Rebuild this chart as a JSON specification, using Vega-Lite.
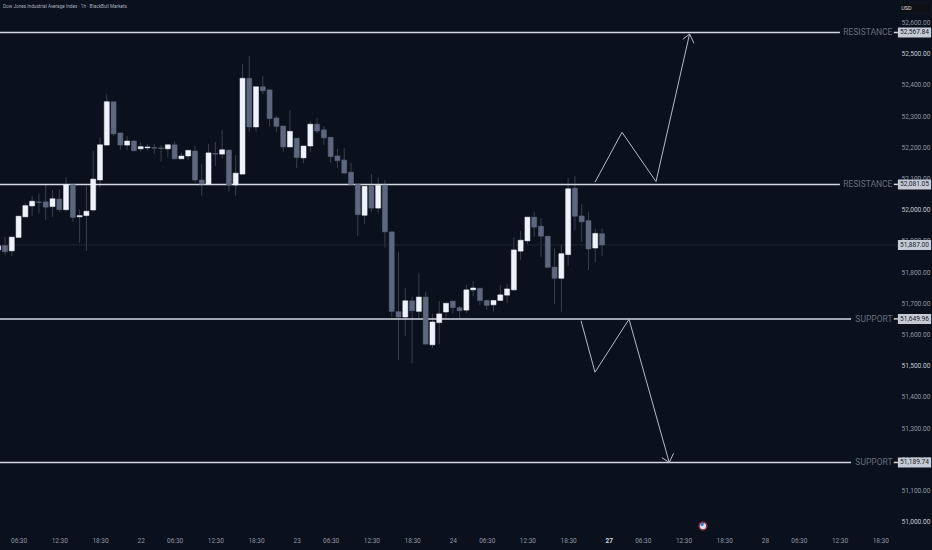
{
  "$schema": "https://vega.github.io/schema/vega-lite/v6.json",
  "width": 897,
  "height": 532,
  "autosize": "none",
  "padding": {"left": 0, "top": 0, "right": 35, "bottom": 18},
  "background": "#0a111d",
  "config": {
    "view": {"stroke": null},
    "text": {"font": "Roboto"}
  },
  "datasets": {
    "candles": [
      {"bar": -1, "open": 51871, "high": 51890, "low": 51864, "close": 51884},
      {"bar": 0, "open": 51885, "high": 51913, "low": 51855, "close": 51865},
      {"bar": 1, "open": 51868, "high": 51912, "low": 51851, "close": 51912},
      {"bar": 2, "open": 51911, "high": 51979, "low": 51911, "close": 51979},
      {"bar": 3, "open": 51977, "high": 52021, "low": 51977, "close": 52013},
      {"bar": 4, "open": 52012, "high": 52044, "low": 51980, "close": 52027},
      {"bar": 5, "open": 52025, "high": 52052, "low": 51988, "close": 52023},
      {"bar": 6, "open": 52025, "high": 52079, "low": 51967, "close": 52008},
      {"bar": 7, "open": 52010, "high": 52063, "low": 51977, "close": 52035},
      {"bar": 8, "open": 52034, "high": 52065, "low": 51993, "close": 52000},
      {"bar": 9, "open": 52000, "high": 52104, "low": 51993, "close": 52080},
      {"bar": 10, "open": 52080, "high": 52080, "low": 51961, "close": 51975},
      {"bar": 11, "open": 51977, "high": 52001, "low": 51894, "close": 51981},
      {"bar": 12, "open": 51981, "high": 52074, "low": 51868, "close": 51995},
      {"bar": 13, "open": 51999, "high": 52189, "low": 51993, "close": 52098},
      {"bar": 14, "open": 52095, "high": 52232, "low": 52072, "close": 52208},
      {"bar": 15, "open": 52207, "high": 52371, "low": 52207, "close": 52346},
      {"bar": 16, "open": 52346, "high": 52346, "low": 52236, "close": 52243},
      {"bar": 17, "open": 52246, "high": 52246, "low": 52191, "close": 52207},
      {"bar": 18, "open": 52207, "high": 52236, "low": 52191, "close": 52220},
      {"bar": 19, "open": 52220, "high": 52223, "low": 52189, "close": 52189},
      {"bar": 20, "open": 52195, "high": 52215, "low": 52186, "close": 52202},
      {"bar": 21, "open": 52198, "high": 52210, "low": 52189, "close": 52201},
      {"bar": 22, "open": 52199, "high": 52210, "low": 52178, "close": 52197},
      {"bar": 23, "open": 52198, "high": 52207, "low": 52154, "close": 52196},
      {"bar": 24, "open": 52195, "high": 52208, "low": 52168, "close": 52208},
      {"bar": 25, "open": 52208, "high": 52218, "low": 52163, "close": 52163},
      {"bar": 26, "open": 52163, "high": 52182, "low": 52163, "close": 52172},
      {"bar": 27, "open": 52172, "high": 52190, "low": 52159, "close": 52190},
      {"bar": 28, "open": 52188, "high": 52204, "low": 52086, "close": 52095},
      {"bar": 29, "open": 52095, "high": 52146, "low": 52045, "close": 52082},
      {"bar": 30, "open": 52082, "high": 52210, "low": 52082, "close": 52182},
      {"bar": 31, "open": 52180, "high": 52217, "low": 52140, "close": 52178},
      {"bar": 32, "open": 52178, "high": 52254, "low": 52164, "close": 52192},
      {"bar": 33, "open": 52191, "high": 52191, "low": 52058, "close": 52079},
      {"bar": 34, "open": 52079, "high": 52175, "low": 52045, "close": 52117},
      {"bar": 35, "open": 52114, "high": 52467, "low": 52114, "close": 52421},
      {"bar": 36, "open": 52421, "high": 52493, "low": 52250, "close": 52265},
      {"bar": 37, "open": 52265, "high": 52394, "low": 52250, "close": 52394},
      {"bar": 38, "open": 52394, "high": 52428, "low": 52370, "close": 52381},
      {"bar": 39, "open": 52384, "high": 52384, "low": 52268, "close": 52292},
      {"bar": 40, "open": 52294, "high": 52300, "low": 52250, "close": 52267},
      {"bar": 41, "open": 52268, "high": 52268, "low": 52186, "close": 52201},
      {"bar": 42, "open": 52201, "high": 52320, "low": 52201, "close": 52251},
      {"bar": 43, "open": 52229, "high": 52229, "low": 52133, "close": 52167},
      {"bar": 44, "open": 52166, "high": 52204, "low": 52149, "close": 52204},
      {"bar": 45, "open": 52204, "high": 52283, "low": 52186, "close": 52274},
      {"bar": 46, "open": 52274, "high": 52294, "low": 52245, "close": 52252},
      {"bar": 47, "open": 52256, "high": 52268, "low": 52208, "close": 52230},
      {"bar": 48, "open": 52232, "high": 52232, "low": 52150, "close": 52170},
      {"bar": 49, "open": 52172, "high": 52195, "low": 52134, "close": 52157},
      {"bar": 50, "open": 52159, "high": 52197, "low": 52117, "close": 52117},
      {"bar": 51, "open": 52120, "high": 52150, "low": 52081, "close": 52081},
      {"bar": 52, "open": 52081, "high": 52081, "low": 51916, "close": 51984},
      {"bar": 53, "open": 51982, "high": 52075, "low": 51954, "close": 52075},
      {"bar": 54, "open": 52076, "high": 52114, "low": 51992, "close": 52005},
      {"bar": 55, "open": 52005, "high": 52101, "low": 51988, "close": 52078},
      {"bar": 56, "open": 52079, "high": 52095, "low": 51879, "close": 51929},
      {"bar": 57, "open": 51929, "high": 51929, "low": 51657, "close": 51674},
      {"bar": 58, "open": 51673, "high": 51865, "low": 51518, "close": 51656},
      {"bar": 59, "open": 51656, "high": 51749, "low": 51595, "close": 51708},
      {"bar": 60, "open": 51708, "high": 51721, "low": 51508, "close": 51676},
      {"bar": 61, "open": 51674, "high": 51798, "low": 51652, "close": 51720},
      {"bar": 62, "open": 51720, "high": 51737, "low": 51569, "close": 51569},
      {"bar": 63, "open": 51567, "high": 51666, "low": 51557, "close": 51640},
      {"bar": 64, "open": 51638, "high": 51707, "low": 51569, "close": 51666},
      {"bar": 65, "open": 51672, "high": 51700, "low": 51651, "close": 51700},
      {"bar": 66, "open": 51707, "high": 51707, "low": 51666, "close": 51686},
      {"bar": 67, "open": 51686, "high": 51691, "low": 51652, "close": 51676},
      {"bar": 68, "open": 51678, "high": 51759, "low": 51668, "close": 51743},
      {"bar": 69, "open": 51743, "high": 51771, "low": 51723, "close": 51749},
      {"bar": 70, "open": 51748, "high": 51748, "low": 51694, "close": 51709},
      {"bar": 71, "open": 51709, "high": 51709, "low": 51678, "close": 51693},
      {"bar": 72, "open": 51695, "high": 51709, "low": 51673, "close": 51709},
      {"bar": 73, "open": 51709, "high": 51758, "low": 51709, "close": 51727},
      {"bar": 74, "open": 51726, "high": 51761, "low": 51700, "close": 51746},
      {"bar": 75, "open": 51743, "high": 51911, "low": 51740, "close": 51871},
      {"bar": 76, "open": 51867, "high": 51932, "low": 51839, "close": 51902},
      {"bar": 77, "open": 51900, "high": 51976, "low": 51890, "close": 51976},
      {"bar": 78, "open": 51976, "high": 51992, "low": 51913, "close": 51944},
      {"bar": 79, "open": 51947, "high": 51974, "low": 51849, "close": 51915},
      {"bar": 80, "open": 51915, "high": 51915, "low": 51812, "close": 51815},
      {"bar": 81, "open": 51816, "high": 51876, "low": 51698, "close": 51780},
      {"bar": 82, "open": 51780, "high": 51887, "low": 51673, "close": 51859},
      {"bar": 83, "open": 51856, "high": 52101, "low": 51820, "close": 52067},
      {"bar": 84, "open": 52069, "high": 52108, "low": 51935, "close": 51979},
      {"bar": 85, "open": 51980, "high": 52018, "low": 51897, "close": 51961},
      {"bar": 86, "open": 51965, "high": 51993, "low": 51807, "close": 51874},
      {"bar": 87, "open": 51877, "high": 51939, "low": 51831, "close": 51924},
      {"bar": 88, "open": 51923, "high": 51939, "low": 51851, "close": 51887}
    ],
    "levels": [
      {"price": 52567.84, "label": "RESISTANCE", "start": -0.737, "lineEnd": 123.06, "pipStart": 131.0, "pipEnd": 131.6, "labelAt": 130.8},
      {"price": 52081.05, "label": "RESISTANCE", "start": -0.737, "lineEnd": 123.06, "pipStart": 131.0, "pipEnd": 131.6, "labelAt": 130.8},
      {"price": 51649.96, "label": "SUPPORT", "start": -0.737, "lineEnd": 124.7, "pipStart": 131.0, "pipEnd": 131.6, "labelAt": 130.8},
      {"price": 51189.74, "label": "SUPPORT", "start": -0.737, "lineEnd": 124.7, "pipStart": 131.0, "pipEnd": 131.6, "labelAt": 130.8}
    ],
    "tags": [
      {"price": 52567.84, "from": 131.6, "to": 136.5, "mid": 134.05},
      {"price": 52081.05, "from": 131.6, "to": 136.5, "mid": 134.05},
      {"price": 51887.0, "from": 131.6, "to": 136.5, "mid": 134.05},
      {"price": 51649.96, "from": 131.6, "to": 136.5, "mid": 134.05},
      {"price": 51189.74, "from": 131.6, "to": 136.5, "mid": 134.05}
    ],
    "arrows": [
      {"path": "up", "seq": 1, "bar": 86.96, "price": 52088},
      {"path": "up", "seq": 2, "bar": 90.94, "price": 52248},
      {"path": "up", "seq": 3, "bar": 95.95, "price": 52090},
      {"path": "up", "seq": 4, "bar": 100.9, "price": 52563},
      {"path": "upHead", "seq": 1, "bar": 99.9, "price": 52546},
      {"path": "upHead", "seq": 2, "bar": 100.9, "price": 52563},
      {"path": "upHead", "seq": 3, "bar": 101.55, "price": 52533},
      {"path": "down", "seq": 1, "bar": 84.9, "price": 51644},
      {"path": "down", "seq": 2, "bar": 86.96, "price": 51479},
      {"path": "down", "seq": 3, "bar": 91.97, "price": 51649},
      {"path": "down", "seq": 4, "bar": 97.9, "price": 51190},
      {"path": "downHead", "seq": 1, "bar": 96.83, "price": 51205},
      {"path": "downHead", "seq": 2, "bar": 97.9, "price": 51190},
      {"path": "downHead", "seq": 3, "bar": 98.55, "price": 51219}
    ]
  },
  "layer": [
    {
      "data": {"name": "candles"},
      "mark": {"type": "rule", "color": "#393f4d", "strokeWidth": 1, "clip": true},
      "encoding": {
        "x": {
          "field": "bar",
          "type": "quantitative",
          "scale": {"domain": [-0.737, 131.47], "nice": false, "zero": false, "padding": 0},
          "axis": {
            "orient": "bottom",
            "title": null,
            "grid": false,
            "domain": false,
            "ticks": false,
            "tickCount": 60,
            "values": [2, 8, 14, 20, 25, 31, 37, 43, 48, 54, 60, 66, 71, 77, 83, 89, 94, 100, 106, 112, 117, 123, 129],
            "labelExpr": "{'20':'22','43':'23','66':'24','89':'27','112':'28'}[datum.value] || {'2':'06:30','25':'06:30','48':'06:30','71':'06:30','94':'06:30','117':'06:30','8':'12:30','31':'12:30','54':'12:30','77':'12:30','100':'12:30','123':'12:30'}[datum.value] || '18:30'",
            "labelFont": "Roboto",
            "labelFontSize": 6.5,
            "labelColor": {"condition": {"test": "datum.value == 89", "value": "#d6dae2"}, "value": "#8f96a3"},
            "labelFontWeight": {"condition": {"test": "datum.value == 89", "value": "bold"}, "value": "normal"},
            "labelPadding": 5,
            "labelOverlap": false,
            "labelFlush": false
          }
        },
        "y": {
          "field": "low",
          "type": "quantitative",
          "scale": {"domain": [50966.9, 52672], "nice": false, "zero": false},
          "axis": {
            "orient": "right",
            "title": null,
            "grid": false,
            "domain": false,
            "ticks": false,
            "tickCount": 60,
            "values": [51000, 51100, 51200, 51300, 51400, 51500, 51600, 51700, 51800, 51900, 52000, 52100, 52200, 52300, 52400, 52500, 52600],
            "format": ",.2f",
            "labelFont": "Roboto",
            "labelFontSize": 6.6,
            "labelColor": {"condition": {"test": "datum.value == 52500 || datum.value == 51500 || datum.value == 51000 || datum.value == 52000", "value": "#c4c9d2"}, "value": "#8f96a3"},
            "labelPadding": 4,
            "labelOverlap": false
          }
        },
        "y2": {"field": "high"}
      }
    },
    {
      "data": {"values": [{"price": 51887, "from": -0.737, "to": 131.47}]},
      "mark": {"type": "rule", "color": "#1f2631", "strokeWidth": 1},
      "encoding": {
        "x": {"field": "from", "type": "quantitative", "scale": {"domain": [-0.737, 131.47], "padding": 0}},
        "x2": {"field": "to"},
        "y": {"field": "price", "type": "quantitative", "scale": {"domain": [50966.9, 52672]}}
      }
    },
    {
      "data": {"name": "levels"},
      "mark": {"type": "rule", "color": "#d3d8e0", "strokeWidth": 1.5, "clip": true},
      "encoding": {
        "x": {"field": "start", "type": "quantitative", "scale": {"domain": [-0.737, 131.47], "padding": 0}},
        "x2": {"field": "lineEnd"},
        "y": {"field": "price", "type": "quantitative", "scale": {"domain": [50966.9, 52672]}}
      }
    },
    {
      "data": {"name": "levels"},
      "mark": {"type": "rule", "color": "#d3d8e0", "strokeWidth": 1.5},
      "encoding": {
        "x": {"field": "pipStart", "type": "quantitative", "scale": {"domain": [-0.737, 131.47], "padding": 0}},
        "x2": {"field": "pipEnd"},
        "y": {"field": "price", "type": "quantitative", "scale": {"domain": [50966.9, 52672]}}
      }
    },
    {
      "data": {"name": "candles"},
      "mark": {"type": "bar", "orient": "vertical", "size": 5, "strokeWidth": 0.5, "clip": true},
      "encoding": {
        "x": {"field": "bar", "type": "quantitative", "scale": {"domain": [-0.737, 131.47], "padding": 0}},
        "y": {"field": "open", "type": "quantitative", "scale": {"domain": [50966.9, 52672]}},
        "y2": {"field": "close"},
        "fill": {"condition": {"test": "datum.close > datum.open", "value": "#eef2fb"}, "value": "#5e677d"},
        "stroke": {"condition": {"test": "datum.close > datum.open", "value": "#eef2fb"}, "value": "#5e677d"}
      }
    },
    {
      "data": {"name": "arrows"},
      "mark": {"type": "line", "color": "#b4bac6", "strokeWidth": 1},
      "encoding": {
        "x": {"field": "bar", "type": "quantitative", "scale": {"domain": [-0.737, 131.47], "padding": 0}},
        "y": {"field": "price", "type": "quantitative", "scale": {"domain": [50966.9, 52672]}},
        "detail": {"field": "path", "type": "nominal"},
        "order": {"field": "seq", "type": "quantitative"}
      }
    },
    {
      "data": {"name": "levels"},
      "mark": {"type": "text", "align": "right", "baseline": "middle", "fontSize": 8.5, "color": "#666d7b"},
      "encoding": {
        "x": {"field": "labelAt", "type": "quantitative", "scale": {"domain": [-0.737, 131.47], "padding": 0}},
        "y": {"field": "price", "type": "quantitative", "scale": {"domain": [50966.9, 52672]}},
        "text": {"field": "label", "type": "nominal"}
      }
    },
    {
      "data": {"name": "tags"},
      "mark": {"type": "rect", "height": 10, "fill": "#c5cbd5"},
      "encoding": {
        "x": {"field": "from", "type": "quantitative", "scale": {"domain": [-0.737, 131.47], "padding": 0}},
        "x2": {"field": "to"},
        "y": {"field": "price", "type": "quantitative", "scale": {"domain": [50966.9, 52672]}}
      }
    },
    {
      "data": {"name": "tags"},
      "mark": {"type": "text", "align": "center", "baseline": "middle", "fontSize": 6.6, "color": "#1b2230"},
      "encoding": {
        "x": {"field": "mid", "type": "quantitative", "scale": {"domain": [-0.737, 131.47], "padding": 0}},
        "y": {"field": "price", "type": "quantitative", "scale": {"domain": [50966.9, 52672]}},
        "text": {"field": "price", "type": "quantitative", "format": ",.2f"}
      }
    },
    {
      "data": {"values": [{"from": 131.76, "to": 136.4, "top": 52662, "bottom": 52630}]},
      "mark": {"type": "rect", "fill": "#0c0f14", "stroke": "#1b2028", "strokeWidth": 0.5},
      "encoding": {
        "x": {"field": "from", "type": "quantitative", "scale": {"domain": [-0.737, 131.47], "padding": 0}},
        "x2": {"field": "to"},
        "y": {"field": "top", "type": "quantitative", "scale": {"domain": [50966.9, 52672]}},
        "y2": {"field": "bottom"}
      }
    },
    {
      "data": {"values": [{"at": 132.1, "price": 52646, "unit": "USD"}]},
      "mark": {"type": "text", "align": "left", "baseline": "middle", "fontSize": 5.5, "color": "#d6dae2"},
      "encoding": {
        "x": {"field": "at", "type": "quantitative", "scale": {"domain": [-0.737, 131.47], "padding": 0}},
        "y": {"field": "price", "type": "quantitative", "scale": {"domain": [50966.9, 52672]}},
        "text": {"field": "unit", "type": "nominal"}
      }
    },
    {
      "data": {"values": [{"at": -0.3, "price": 52650, "name": "Dow Jones Industrial Average Index · 1h · BlackBull Markets"}]},
      "mark": {"type": "text", "align": "left", "baseline": "middle", "fontSize": 4.7, "color": "#a9b0bd"},
      "encoding": {
        "x": {"field": "at", "type": "quantitative", "scale": {"domain": [-0.737, 131.47], "padding": 0}},
        "y": {"field": "price", "type": "quantitative", "scale": {"domain": [50966.9, 52672]}},
        "text": {"field": "name", "type": "nominal"}
      }
    },
    {
      "data": {"values": [{"bar": 102.87, "price": 50986}]},
      "mark": {"type": "point", "shape": "circle", "size": 60, "filled": true, "fill": "#d9dcec", "stroke": "#8c2a3c", "strokeWidth": 1.5, "opacity": 1},
      "encoding": {
        "x": {"field": "bar", "type": "quantitative", "scale": {"domain": [-0.737, 131.47], "padding": 0}},
        "y": {"field": "price", "type": "quantitative", "scale": {"domain": [50966.9, 52672]}}
      }
    },
    {
      "data": {"values": [{"bar": 102.75, "price": 50992}]},
      "mark": {"type": "point", "shape": "circle", "size": 12, "filled": true, "fill": "#3f6fd0", "opacity": 1},
      "encoding": {
        "x": {"field": "bar", "type": "quantitative", "scale": {"domain": [-0.737, 131.47], "padding": 0}},
        "y": {"field": "price", "type": "quantitative", "scale": {"domain": [50966.9, 52672]}}
      }
    }
  ]
}
